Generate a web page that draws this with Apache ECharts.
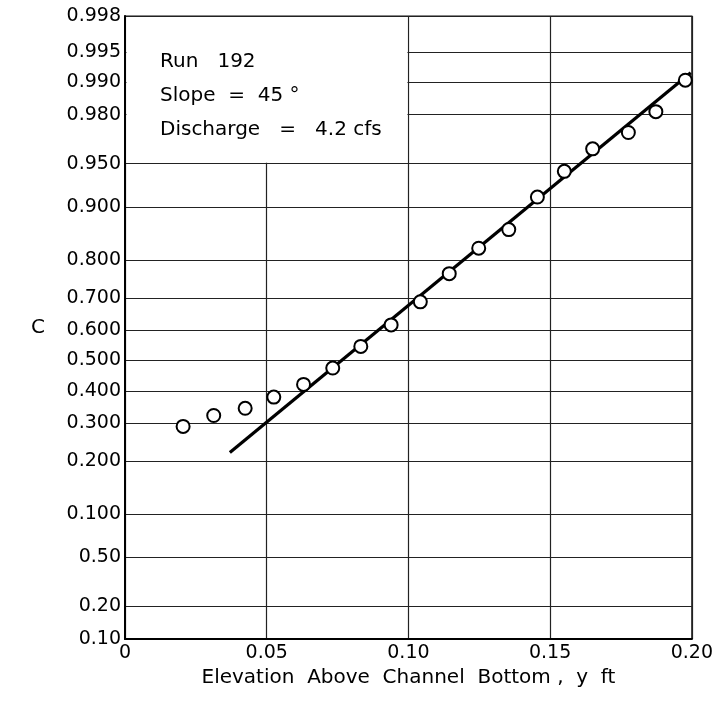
<!DOCTYPE html>
<html>
<head>
<meta charset="utf-8">
<script src="https://cdn.jsdelivr.net/npm/echarts@6/dist/echarts.min.js"></script>
<style>html,body{margin:0;padding:0;background:#fff;}#chart{width:716px;height:702px;}</style>
</head>
<body>
<div id="chart"></div>
<script>
// ---- data ----
var elevation = [0.0205,0.0313,0.0424,0.0525,0.0630,0.0733,0.0832,0.0939,0.1042,0.1144,0.1248,0.1354,0.1455,0.1550,0.1650,0.1776,0.1873,0.1977];
var cValues   = [0.291,0.323,0.345,0.380,0.421,0.475,0.547,0.617,0.688,0.766,0.826,0.863,0.914,0.943,0.9615,0.9716,0.9812,0.9904];
var fitX = [0.037, 0.1996];
var fitC = [0.221, 0.9919];
var yLevels = [0.01,0.02,0.05,0.10,0.20,0.30,0.40,0.50,0.60,0.70,0.80,0.90,0.95,0.98,0.99,0.995,0.998];
var yLabels = ['0.10','0.20','0.50','0.100','0.200','0.300','0.400','0.500','0.600','0.700','0.800','0.900','0.950','0.980','0.990','0.995','0.998'];
var xTicks = [0,0.05,0.10,0.15,0.20];
var xLabels = ['0','0.05','0.10','0.15','0.20'];
var boxLines = ['Run   192','Slope  =  45 °','Discharge   =   4.2 cfs'];

// inverse normal CDF (Acklam) -> normal-probability axis scale
function probit(p){
  var a=[-3.969683028665376e+01,2.209460984245205e+02,-2.759285104469687e+02,1.383577518672690e+02,-3.066479806614716e+01,2.506628277459239e+00];
  var b=[-5.447609879822406e+01,1.615858368580409e+02,-1.556989798598866e+02,6.680131188771972e+01,-1.328068155288572e+01];
  var c=[-7.784894002430293e-03,-3.223964580411365e-01,-2.400758277161838e+00,-2.549671010229528e+00,4.374664141464968e+00,2.938163982698783e+00];
  var d=[7.784695709041462e-03,3.224671290700398e-01,2.445134137142996e+00,3.754408661907416e+00];
  var pl=0.02425, q, r;
  if(p<pl){q=Math.sqrt(-2*Math.log(p));return (((((c[0]*q+c[1])*q+c[2])*q+c[3])*q+c[4])*q+c[5])/((((d[0]*q+d[1])*q+d[2])*q+d[3])*q+1);}
  if(p>1-pl){q=Math.sqrt(-2*Math.log(1-p));return -(((((c[0]*q+c[1])*q+c[2])*q+c[3])*q+c[4])*q+c[5])/((((d[0]*q+d[1])*q+d[2])*q+d[3])*q+1);}
  q=p-0.5;r=q*q;
  return (((((a[0]*r+a[1])*r+a[2])*r+a[3])*r+a[4])*r+a[5])*q/(((((b[0]*r+b[1])*r+b[2])*r+b[3])*r+b[4])*r+1);
}

var yVals = yLevels.map(probit);
var FONT = 'DejaVu Sans';
var chart = echarts.init(document.getElementById('chart'));
var option = {
  backgroundColor:'#fff',
  animation:false,
  grid:{left:125,right:23,top:16,bottom:63,show:true,borderColor:'#111',borderWidth:1.2,backgroundColor:'transparent'},
  xAxis:{
    type:'value',min:0,max:0.2,interval:0.05,
    name:'Elevation  Above  Channel  Bottom ,  y  ft',nameLocation:'middle',nameGap:17,
    nameTextStyle:{fontFamily:FONT,fontSize:20,color:'#000'},
    axisLine:{show:true,onZero:false,lineStyle:{color:'#000',width:2}},
    axisTick:{show:false},
    axisLabel:{margin:5,fontFamily:FONT,fontSize:19,color:'#000',
      formatter:function(v){var i=xTicks.findIndex(function(t){return Math.abs(t-v)<1e-6;});return i>=0?xLabels[i]:'';}},
    splitLine:{show:true,lineStyle:{color:'#222',width:1.2}}
  },
  yAxis:{
    type:'value',min:yVals[0],max:yVals[yVals.length-1],
    name:'C',nameLocation:'middle',nameGap:80,nameRotate:0,
    nameTextStyle:{fontFamily:FONT,fontSize:20,color:'#000',padding:[0,0,16,0]},
    axisLine:{show:true,onZero:false,lineStyle:{color:'#000',width:2}},
    axisTick:{show:false,customValues:yVals},
    axisLabel:{margin:4,fontFamily:FONT,fontSize:19,color:'#000',customValues:yVals,
      formatter:function(v){var best=0,bd=1e9;for(var i=0;i<yVals.length;i++){var dd=Math.abs(yVals[i]-v);if(dd<bd){bd=dd;best=i;}}return yLabels[best];}},
    splitLine:{show:true,lineStyle:{color:'#222',width:1.2}}
  },
  series:[
    {type:'line',data:fitX.map(function(x,i){return [x,probit(fitC[i])];}),symbol:'none',
     lineStyle:{color:'#000',width:3.2},z:3},
    {type:'scatter',data:elevation.map(function(x,i){return [x,probit(cValues[i])];}),
     symbol:'circle',symbolSize:13,itemStyle:{color:'#fff',borderColor:'#000',borderWidth:2,opacity:1},z:4}
  ]
};
chart.setOption(option);

// white label box in the upper-left corner (covers grid lines there)
var p0 = chart.convertToPixel({gridIndex:0},[0,yVals[yVals.length-1]]);
var p1 = chart.convertToPixel({gridIndex:0},[0.10,probit(0.95)]);
var gfx = [{type:'rect',shape:{x:p0[0]+1.5,y:p0[1]+1,width:p1[0]-p0[0]-2.5,height:p1[1]-p0[1]-2},
  style:{fill:'#fff'},z:1}];
boxLines.forEach(function(t,i){
  gfx.push({type:'text',x:p0[0]+35,y:p0[1]+46+i*34,z:2,
    style:{text:t,fontFamily:FONT,fontSize:20,fill:'#000',textVerticalAlign:'middle'}});
});
chart.setOption({graphic:gfx});
</script>
</body>
</html>
